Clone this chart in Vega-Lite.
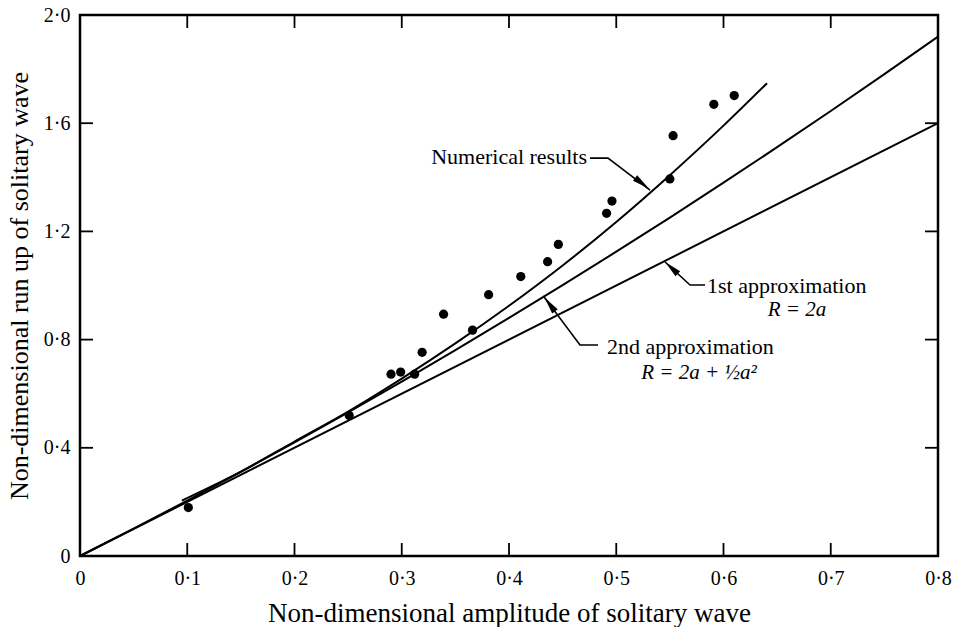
{
  "$schema": "https://vega.github.io/schema/vega-lite/v6.json",
  "width": 858,
  "height": 541,
  "autosize": "none",
  "padding": {"left": 80, "top": 15, "right": 20, "bottom": 71},
  "background": "white",
  "config": {
    "view": {"stroke": "black", "strokeWidth": 2.5},
    "font": "Liberation Serif",
    "axis": {
      "domain": false,
      "grid": false,
      "ticks": false,
      "labelColor": "black",
      "labelFont": "Liberation Serif",
      "labelFontSize": 20,
      "labelFlush": false,
      "labelOverlap": false,
      "titleFont": "Liberation Serif",
      "titleFontSize": 26,
      "titleFontWeight": "normal",
      "titleColor": "black"
    }
  },
  "datasets": {
    "curves": [
      {"a": 0, "R": 0, "s": "first"},
      {"a": 0.8, "R": 1.6, "s": "first"},
      {"a": 0, "R": 0, "s": "second"},
      {"a": 0.05, "R": 0.10125, "s": "second"},
      {"a": 0.1, "R": 0.205, "s": "second"},
      {"a": 0.15, "R": 0.31125, "s": "second"},
      {"a": 0.2, "R": 0.42, "s": "second"},
      {"a": 0.25, "R": 0.53125, "s": "second"},
      {"a": 0.3, "R": 0.645, "s": "second"},
      {"a": 0.35, "R": 0.76125, "s": "second"},
      {"a": 0.4, "R": 0.88, "s": "second"},
      {"a": 0.45, "R": 1.00125, "s": "second"},
      {"a": 0.5, "R": 1.125, "s": "second"},
      {"a": 0.55, "R": 1.25125, "s": "second"},
      {"a": 0.6, "R": 1.38, "s": "second"},
      {"a": 0.65, "R": 1.51125, "s": "second"},
      {"a": 0.7, "R": 1.645, "s": "second"},
      {"a": 0.75, "R": 1.78125, "s": "second"},
      {"a": 0.8, "R": 1.92, "s": "second"},
      {"a": 0.095, "R": 0.205, "s": "numerical"},
      {"a": 0.15, "R": 0.312, "s": "numerical"},
      {"a": 0.2, "R": 0.423, "s": "numerical"},
      {"a": 0.25, "R": 0.534, "s": "numerical"},
      {"a": 0.3, "R": 0.656, "s": "numerical"},
      {"a": 0.35, "R": 0.786, "s": "numerical"},
      {"a": 0.4, "R": 0.925, "s": "numerical"},
      {"a": 0.45, "R": 1.074, "s": "numerical"},
      {"a": 0.5, "R": 1.235, "s": "numerical"},
      {"a": 0.55, "R": 1.408, "s": "numerical"},
      {"a": 0.6, "R": 1.591, "s": "numerical"},
      {"a": 0.6406, "R": 1.748, "s": "numerical"}
    ],
    "pts": [
      {"a": 0.101, "R": 0.179},
      {"a": 0.251, "R": 0.519},
      {"a": 0.29, "R": 0.672},
      {"a": 0.299, "R": 0.68},
      {"a": 0.312, "R": 0.672},
      {"a": 0.319, "R": 0.753},
      {"a": 0.339, "R": 0.894},
      {"a": 0.366, "R": 0.835},
      {"a": 0.381, "R": 0.966},
      {"a": 0.411, "R": 1.033},
      {"a": 0.436, "R": 1.088},
      {"a": 0.446, "R": 1.152},
      {"a": 0.491, "R": 1.267},
      {"a": 0.496, "R": 1.312},
      {"a": 0.55, "R": 1.394},
      {"a": 0.553, "R": 1.554},
      {"a": 0.591, "R": 1.67},
      {"a": 0.61, "R": 1.702}
    ],
    "ticks": [
      {"a": 0.1, "R": 0, "t": "b1"}, {"a": 0.1, "R": 0.048, "t": "b1"},
      {"a": 0.2, "R": 0, "t": "b2"}, {"a": 0.2, "R": 0.048, "t": "b2"},
      {"a": 0.3, "R": 0, "t": "b3"}, {"a": 0.3, "R": 0.048, "t": "b3"},
      {"a": 0.4, "R": 0, "t": "b4"}, {"a": 0.4, "R": 0.048, "t": "b4"},
      {"a": 0.5, "R": 0, "t": "b5"}, {"a": 0.5, "R": 0.048, "t": "b5"},
      {"a": 0.6, "R": 0, "t": "b6"}, {"a": 0.6, "R": 0.048, "t": "b6"},
      {"a": 0.7, "R": 0, "t": "b7"}, {"a": 0.7, "R": 0.048, "t": "b7"},
      {"a": 0.1, "R": 2, "t": "t1"}, {"a": 0.1, "R": 1.952, "t": "t1"},
      {"a": 0.2, "R": 2, "t": "t2"}, {"a": 0.2, "R": 1.952, "t": "t2"},
      {"a": 0.3, "R": 2, "t": "t3"}, {"a": 0.3, "R": 1.952, "t": "t3"},
      {"a": 0.4, "R": 2, "t": "t4"}, {"a": 0.4, "R": 1.952, "t": "t4"},
      {"a": 0.5, "R": 2, "t": "t5"}, {"a": 0.5, "R": 1.952, "t": "t5"},
      {"a": 0.6, "R": 2, "t": "t6"}, {"a": 0.6, "R": 1.952, "t": "t6"},
      {"a": 0.7, "R": 2, "t": "t7"}, {"a": 0.7, "R": 1.952, "t": "t7"},
      {"a": 0, "R": 0.4, "t": "l1"}, {"a": 0.0121, "R": 0.4, "t": "l1"},
      {"a": 0, "R": 0.8, "t": "l2"}, {"a": 0.0121, "R": 0.8, "t": "l2"},
      {"a": 0, "R": 1.2, "t": "l3"}, {"a": 0.0121, "R": 1.2, "t": "l3"},
      {"a": 0, "R": 1.6, "t": "l4"}, {"a": 0.0121, "R": 1.6, "t": "l4"},
      {"a": 0.8, "R": 0.4, "t": "r1"}, {"a": 0.7879, "R": 0.4, "t": "r1"},
      {"a": 0.8, "R": 0.8, "t": "r2"}, {"a": 0.7879, "R": 0.8, "t": "r2"},
      {"a": 0.8, "R": 1.2, "t": "r3"}, {"a": 0.7879, "R": 1.2, "t": "r3"},
      {"a": 0.8, "R": 1.6, "t": "r4"}, {"a": 0.7879, "R": 1.6, "t": "r4"}
    ],
    "leaders": [
      {"a": 0.4755, "R": 1.471, "k": "num", "o": 1},
      {"a": 0.4923, "R": 1.471, "k": "num", "o": 2},
      {"a": 0.5315, "R": 1.353, "k": "num", "o": 3},
      {"a": 0.5828, "R": 1.0018, "k": "first", "o": 1},
      {"a": 0.5688, "R": 1.0018, "k": "first", "o": 2},
      {"a": 0.5455, "R": 1.087, "k": "first", "o": 3},
      {"a": 0.483, "R": 0.78, "k": "second", "o": 1},
      {"a": 0.4662, "R": 0.78, "k": "second", "o": 2},
      {"a": 0.432, "R": 0.961, "k": "second", "o": 3}
    ],
    "arrows": [
      {"a": 0.524, "R": 1.378, "k": "num"},
      {"a": 0.5515, "R": 1.065, "k": "first"},
      {"a": 0.438, "R": 0.93, "k": "second"}
    ],
    "notes": [
      {"a": 0.4727, "R": 1.475, "text": "Numerical results", "k": "right"},
      {"a": 0.5846, "R": 0.998, "text": "1st approximation", "k": "left"},
      {"a": 0.4914, "R": 0.773, "text": "2nd approximation", "k": "left"},
      {"a": 0.6685, "R": 0.909, "text": "R = 2a", "k": "formula"},
      {"a": 0.5772, "R": 0.6765, "text": "R = 2a + ½a²", "k": "formula"}
    ]
  },
  "encoding": {
    "x": {
      "field": "a", "type": "quantitative",
      "scale": {"domain": [0, 0.8], "nice": false, "zero": false},
      "axis": {
        "orient": "bottom",
        "values": [0, 0.1, 0.2, 0.3, 0.4, 0.5, 0.6, 0.7, 0.8],
        "labelExpr": "datum.value == 0 ? '0' : replace(format(datum.value, '.1f'), '.', '·')",
        "labelPadding": 12,
        "title": "Non-dimensional amplitude of solitary wave",
        "titleFontSize": 27,
        "titlePadding": 12
      }
    },
    "y": {
      "field": "R", "type": "quantitative",
      "scale": {"domain": [0, 2], "nice": false, "zero": false},
      "axis": {
        "orient": "left",
        "values": [0, 0.4, 0.8, 1.2, 1.6, 2.0],
        "labelExpr": "datum.value == 0 ? '0' : replace(format(datum.value, '.1f'), '.', '·')",
        "labelPadding": 10,
        "title": "Non-dimensional run up of solitary wave",
        "titlePadding": 11
      }
    }
  },
  "layer": [
    {
      "data": {"name": "curves"},
      "mark": {"type": "line", "color": "black", "strokeWidth": 2, "interpolate": "monotone"},
      "encoding": {"detail": {"field": "s"}}
    },
    {
      "data": {"name": "ticks"},
      "mark": {"type": "line", "color": "black", "strokeWidth": 1.8},
      "encoding": {"detail": {"field": "t"}}
    },
    {
      "data": {"name": "pts"},
      "mark": {"type": "circle", "color": "black", "opacity": 1, "size": 85}
    },
    {
      "data": {"name": "leaders"},
      "mark": {"type": "line", "color": "black", "strokeWidth": 1.6},
      "encoding": {
        "detail": {"field": "k"},
        "order": {"field": "o", "type": "quantitative"}
      }
    },
    {
      "data": {"name": "arrows"},
      "transform": [{"filter": "datum.k == 'num'"}],
      "mark": {"type": "point", "shape": "M0,-1L0.4,1L-0.4,1Z", "filled": true, "color": "black", "opacity": 1, "size": 300, "angle": 127}
    },
    {
      "data": {"name": "arrows"},
      "transform": [{"filter": "datum.k == 'first'"}],
      "mark": {"type": "point", "shape": "M0,-1L0.4,1L-0.4,1Z", "filled": true, "color": "black", "opacity": 1, "size": 300, "angle": 313}
    },
    {
      "data": {"name": "arrows"},
      "transform": [{"filter": "datum.k == 'second'"}],
      "mark": {"type": "point", "shape": "M0,-1L0.4,1L-0.4,1Z", "filled": true, "color": "black", "opacity": 1, "size": 300, "angle": 323}
    },
    {
      "data": {"name": "notes"},
      "transform": [{"filter": "datum.k == 'right'"}],
      "mark": {"type": "text", "align": "right", "baseline": "middle", "font": "Liberation Serif", "fontSize": 22, "color": "black"},
      "encoding": {"text": {"field": "text"}}
    },
    {
      "data": {"name": "notes"},
      "transform": [{"filter": "datum.k == 'left'"}],
      "mark": {"type": "text", "align": "left", "baseline": "middle", "font": "Liberation Serif", "fontSize": 22, "color": "black"},
      "encoding": {"text": {"field": "text"}}
    },
    {
      "data": {"name": "notes"},
      "transform": [{"filter": "datum.k == 'formula'"}],
      "mark": {"type": "text", "align": "center", "baseline": "middle", "font": "Liberation Serif", "fontSize": 21, "fontStyle": "italic", "color": "black"},
      "encoding": {"text": {"field": "text"}}
    }
  ]
}
